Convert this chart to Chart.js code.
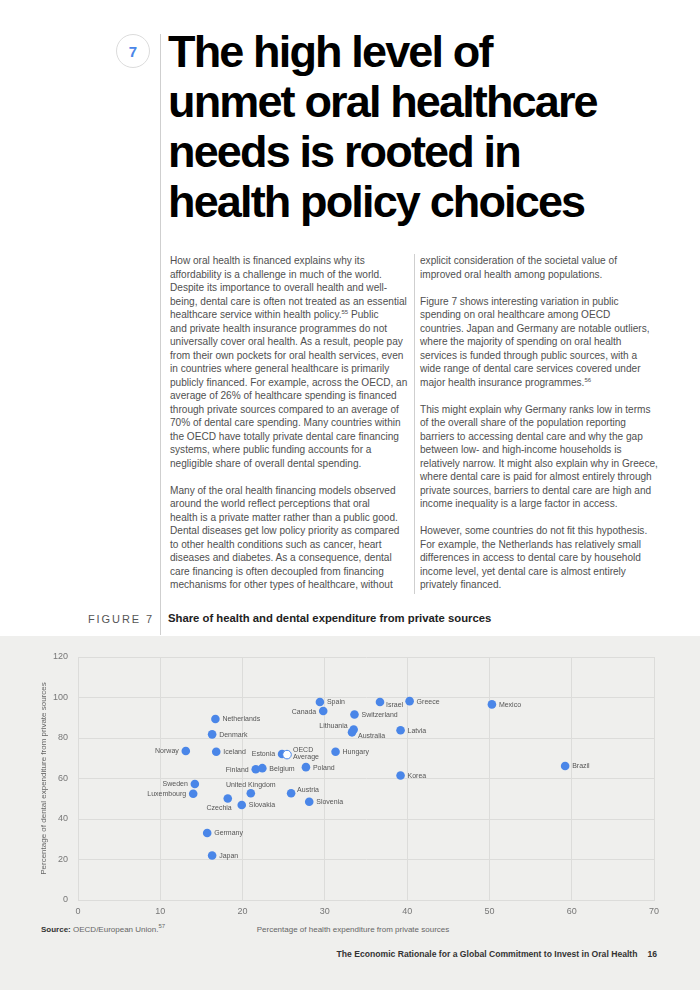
<!DOCTYPE html>
<html>
<head>
<meta charset="utf-8">
<script src="https://cdn.jsdelivr.net/npm/chart.js@4"></script>
<style>
  html, body { margin:0; padding:0; }
  body { width:700px; height:990px; position:relative; background:#ffffff; font-family:"Liberation Sans", Arial, Helvetica, sans-serif; overflow:hidden; }
  .abs { position:absolute; }
  #numcircle { left:116px; top:34px; width:32px; height:32px; border:1px solid #dcdcdc; border-radius:50%; color:#4a86e8; font-weight:bold; font-size:15px; line-height:33px; text-align:center; }
  #vline { left:160px; top:34px; width:1px; height:601px; background:#cfcfcf; }
  #colline { left:414px; top:254px; width:1px; height:340px; background:#cfcfcf; }
  #title { left:168px; top:27px; font-size:45px; line-height:50px; font-weight:bold; color:#000; letter-spacing:-1.85px; white-space:nowrap; }
  .col { top:254px; font-size:10.1px; line-height:13.5px; color:#505050; white-space:nowrap; }
  sup { font-size:6px; line-height:0; vertical-align:4px; }
  #figlabel { left:88px; top:613px; font-size:11px; letter-spacing:1.9px; color:#555; white-space:nowrap; }
  #figtitle { left:168px; top:612px; font-size:11.3px; font-weight:bold; color:#222; white-space:nowrap; }
  #panel { left:0; top:636px; width:700px; height:354px; background:#efefed; }
  #chartwrap { left:0; top:640px; width:700px; height:280px; }
  #xtitle { left:0; width:706px; text-align:center; top:925px; font-size:8px; color:#666; white-space:nowrap; }
  #source { left:41px; top:925px; font-size:8px; color:#666; white-space:nowrap; }
  #source b { color:#333; }
  #footer { right:43px; top:949px; font-size:8.6px; font-weight:bold; color:#333; white-space:nowrap; }
  #footer span { margin-left:10px; }
</style>
</head>
<body>
<div id="panel" class="abs"></div>
<div id="numcircle" class="abs">7</div>
<div id="vline" class="abs"></div>
<div id="colline" class="abs"></div>
<div id="title" class="abs">The high level of<br>unmet oral healthcare<br>needs is rooted in<br>health policy choices</div>

<div class="abs col" style="left:170px;">How oral health is financed explains why its<br>affordability is a challenge in much of the world.<br>Despite its importance to overall health and well-<br>being, dental care is often not treated as an essential<br>healthcare service within health policy.<sup>55</sup> Public<br>and private health insurance programmes do not<br>universally cover oral health. As a result, people pay<br>from their own pockets for oral health services, even<br>in countries where general healthcare is primarily<br>publicly financed. For example, across the OECD, an<br>average of 26% of healthcare spending is financed<br>through private sources compared to an average of<br>70% of dental care spending. Many countries within<br>the OECD have totally private dental care financing<br>systems, where public funding accounts for a<br>negligible share of overall dental spending.<br><br>Many of the oral health financing models observed<br>around the world reflect perceptions that oral<br>health is a private matter rather than a public good.<br>Dental diseases get low policy priority as compared<br>to other health conditions such as cancer, heart<br>diseases and diabetes. As a consequence, dental<br>care financing is often decoupled from financing<br>mechanisms for other types of healthcare, without</div>

<div class="abs col" style="left:420px;">explicit consideration of the societal value of<br>improved oral health among populations.<br><br>Figure 7 shows interesting variation in public<br>spending on oral healthcare among OECD<br>countries. Japan and Germany are notable outliers,<br>where the majority of spending on oral health<br>services is funded through public sources, with a<br>wide range of dental care services covered under<br>major health insurance programmes.<sup>56</sup><br><br>This might explain why Germany ranks low in terms<br>of the overall share of the population reporting<br>barriers to accessing dental care and why the gap<br>between low- and high-income households is<br>relatively narrow. It might also explain why in Greece,<br>where dental care is paid for almost entirely through<br>private sources, barriers to dental care are high and<br>income inequality is a large factor in access.<br><br>However, some countries do not fit this hypothesis.<br>For example, the Netherlands has relatively small<br>differences in access to dental care by household<br>income level, yet dental care is almost entirely<br>privately financed.</div>

<div id="figlabel" class="abs">FIGURE 7</div>
<div id="figtitle" class="abs">Share of health and dental expenditure from private sources</div>

<div id="chartwrap" class="abs"><canvas id="c" width="700" height="280"></canvas></div>
<div id="xtitle" class="abs">Percentage of health expenditure from private sources</div>
<div id="source" class="abs"><b>Source:</b> OECD/European Union.<sup>57</sup></div>
<div id="footer" class="abs">The Economic Rationale for a Global Commitment to Invest in Oral Health<span>16</span></div>

<script>
// ---- DATA ----
const countries = ["Spain","Canada","Israel","Greece","Mexico","Switzerland","Netherlands","Lithuania","Australia","Latvia","Denmark","Norway","Iceland","Estonia","OECD Average","Hungary","Finland","Belgium","Poland","Brazil","Korea","Sweden","Luxembourg","United Kingdom","Austria","Czechia","Slovakia","Slovenia","Germany","Japan"];
const healthPrivate = [29.4,29.8,36.7,40.3,50.3,33.6,16.7,33.5,33.3,39.2,16.3,13.1,16.8,24.8,25.4,31.3,21.6,22.4,27.7,59.2,39.2,14.2,14.0,21.0,25.9,18.2,19.9,28.1,15.7,16.3];
const dentalPrivate = [97.8,93.3,97.8,98.2,96.6,91.6,89.4,84.2,82.8,83.8,81.8,73.6,73.2,72.1,71.8,73.2,64.6,65.1,65.6,66.2,61.5,57.3,52.5,52.7,52.7,50.1,46.9,48.5,33.1,22.0];
const xTicks = [0,10,20,30,40,50,60,70];
const yTicks = [0,20,40,60,80,100,120];
// label placement keyword per country (r = right, l = left, t = top, etc.)
const labelPlacement = ["r","l","rb","r","r","r","r","lt","rb","r","r","l","r","l","r2","r","l","r","r","r","r","l","l","t","rt","bl","r","r","r","r"];

const BLUE = "#4a86e8";
const points = healthPrivate.map((x,i)=>({x:x, y:dentalPrivate[i]}));

const labelPlugin = {
  id: "pointLabels",
  afterDatasetsDraw(chart) {
    const ctx = chart.ctx;
    const meta = chart.getDatasetMeta(0);
    ctx.save();
    ctx.font = "7px 'Liberation Sans', Arial, sans-serif";
    ctx.fillStyle = "#555";
    ctx.textBaseline = "middle";
    meta.data.forEach((el, i) => {
      const name = countries[i];
      const p = labelPlacement[i];
      const x = el.x, y = el.y;
      if (p === "r") { ctx.textAlign = "left"; ctx.fillText(name, x + 7, y + 0.5); }
      else if (p === "l") { ctx.textAlign = "right"; ctx.fillText(name, x - 7, y + 0.5); }
      else if (p === "rb") { ctx.textAlign = "left"; ctx.fillText(name, x + 6, y + 3.5); }
      else if (p === "lt") { ctx.textAlign = "right"; ctx.fillText(name, x - 6, y - 3); }
      else if (p === "rt") { ctx.textAlign = "left"; ctx.fillText(name, x + 6, y - 3); }
      else if (p === "t") { ctx.textAlign = "center"; ctx.fillText(name, x, y - 8); }
      else if (p === "bl") { ctx.textAlign = "right"; ctx.fillText(name, x + 4, y + 10); }
      else if (p === "r2") {
        const parts = name.split(" ");
        ctx.textAlign = "left";
        ctx.fillText(parts[0], x + 6, y - 4.5);
        ctx.fillText(parts[1], x + 6, y + 2.5);
      }
    });
    ctx.restore();
  }
};

const gridColor = "#dcdcda";
new Chart(document.getElementById("c"), {
  type: "scatter",
  data: {
    datasets: [{
      data: points,
      pointRadius: 4.3,
      pointHoverRadius: 4.3,
      pointBackgroundColor: (c) => countries[c.dataIndex] === "OECD Average" ? "#ffffff" : BLUE,
      pointBorderColor: BLUE,
      pointBorderWidth: (c) => countries[c.dataIndex] === "OECD Average" ? 1 : 0
    }]
  },
  options: {
    responsive: false,
    animation: false,
    events: [],
    layout: { padding: { left: 35, right: 46, top: 17, bottom: 0 } },
    plugins: { legend: { display: false }, tooltip: { enabled: false } },
    scales: {
      x: {
        type: "linear",
        min: xTicks[0], max: xTicks[xTicks.length-1],
        afterBuildTicks: (s) => { s.ticks = xTicks.map(v => ({value: v})); },
        afterFit: (s) => { s.height = 20; },
        grid: { color: gridColor, drawTicks: false, lineWidth: 1 },
        border: { color: gridColor },
        ticks: { color: "#777", padding: 6, font: { family: "'Liberation Sans', Arial, sans-serif", size: 9 } }
      },
      y: {
        type: "linear",
        min: yTicks[0], max: yTicks[yTicks.length-1],
        afterBuildTicks: (s) => { s.ticks = yTicks.map(v => ({value: v})); },
        afterFit: (s) => { s.width = 43; },
        grid: { color: gridColor, drawTicks: false, lineWidth: 1 },
        border: { color: gridColor },
        ticks: { color: "#777", padding: 10, font: { family: "'Liberation Sans', Arial, sans-serif", size: 9 } },
        title: { display: true, text: "Percentage of dental expenditure from private sources", color: "#666", font: { family: "'Liberation Sans', Arial, sans-serif", size: 8 } }
      }
    }
  },
  plugins: [labelPlugin]
});
</script>
</body>
</html>
